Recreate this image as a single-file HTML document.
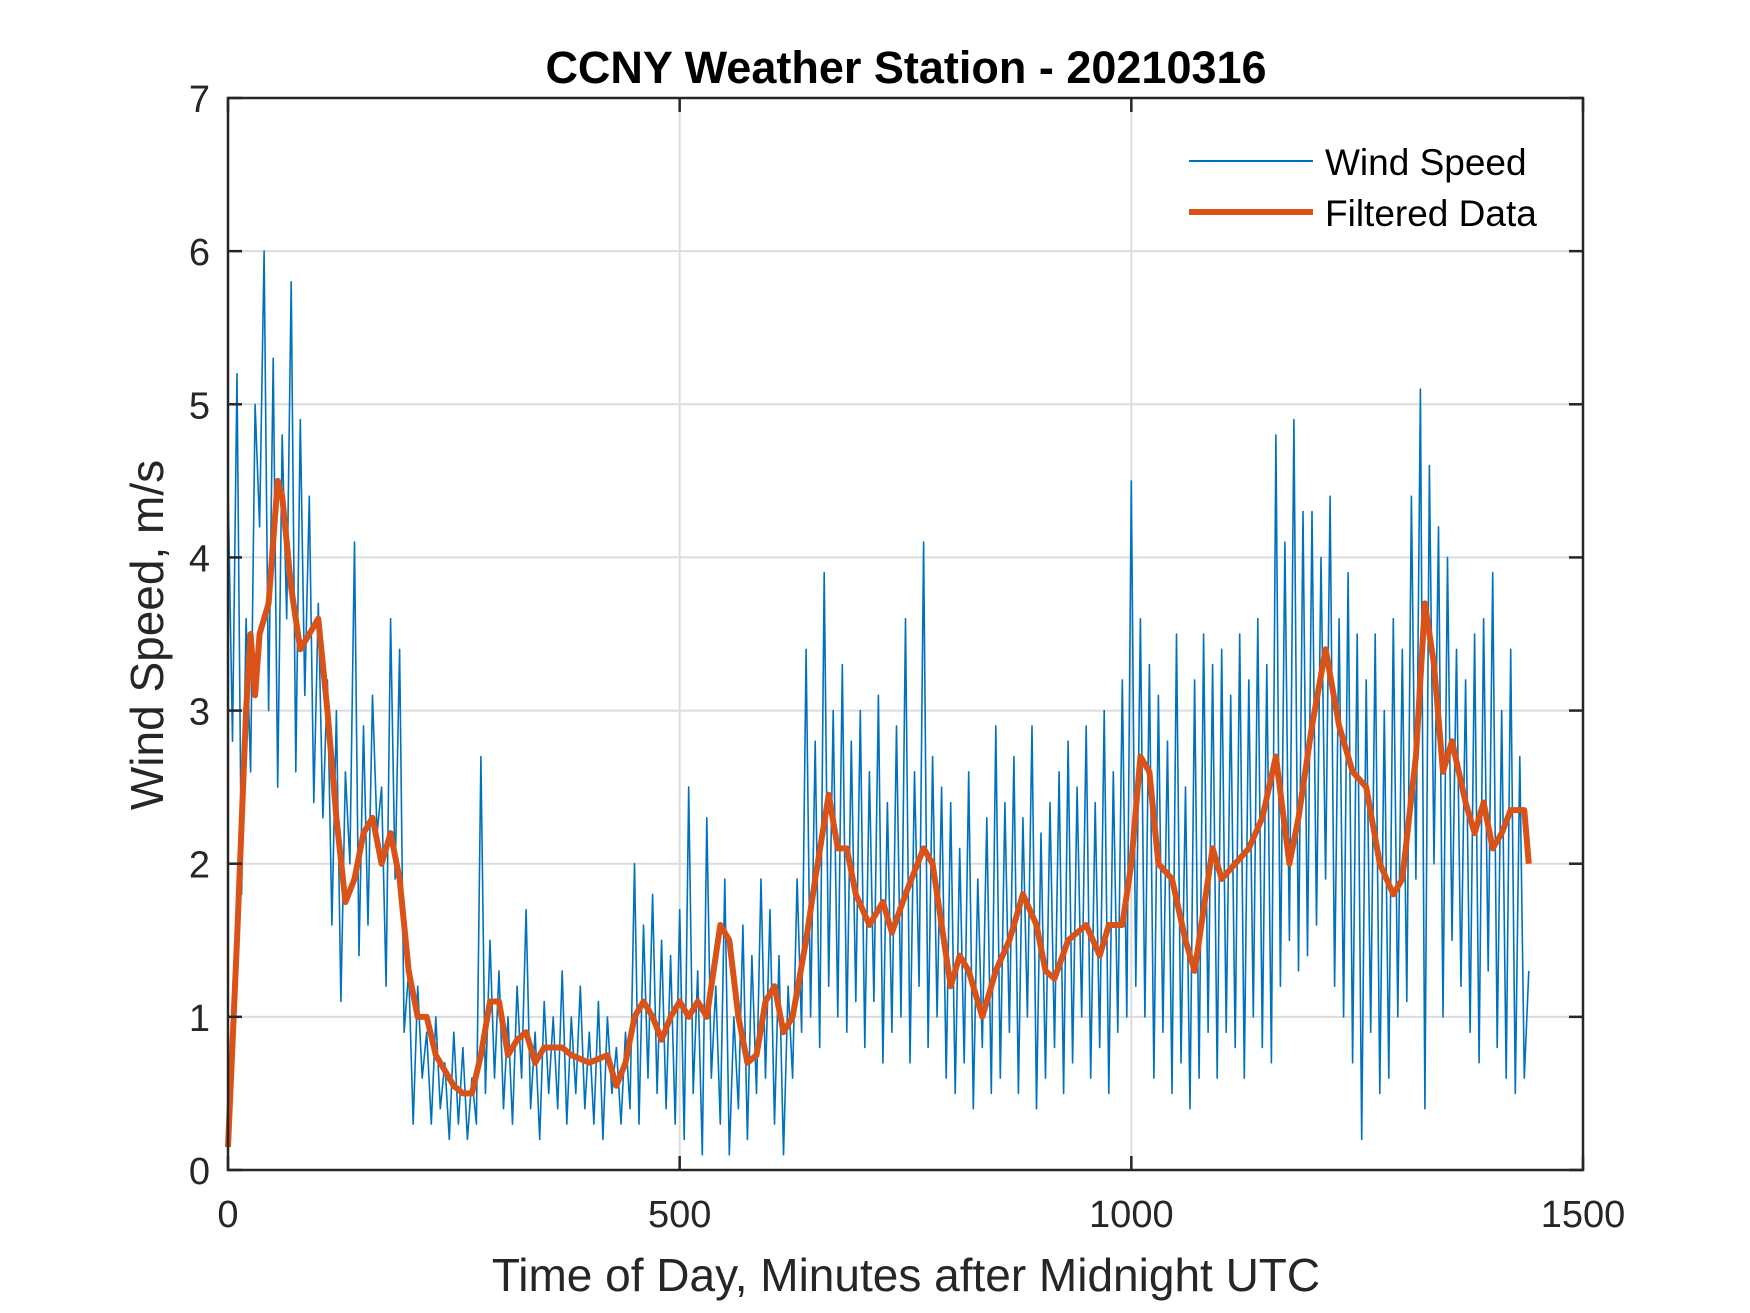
<!DOCTYPE html>
<html><head><meta charset="utf-8"><style>
html,body{margin:0;padding:0;background:#fff;}
svg{display:block;font-family:"Liberation Sans",Arial,sans-serif;}
</style></head><body>
<svg id="chart" width="1750" height="1313" viewBox="0 0 1750 1313">
<rect x="0" y="0" width="1750" height="1313" fill="#fff"/>
<g id="grid"></g>
<g id="series"></g>
<rect x="228" y="98" width="1355" height="1072" fill="none" stroke="#262626" stroke-width="2.5"/>
<g id="ticks"></g>
<text x="906" y="83" text-anchor="middle" font-size="45" font-weight="bold" fill="#000">CCNY Weather Station - 20210316</text>
<text x="906" y="1291" text-anchor="middle" font-size="46" fill="#262626">Time of Day, Minutes after Midnight UTC</text>
<text x="0" y="0" transform="translate(163,635) rotate(-90)" text-anchor="middle" font-size="46" fill="#262626">Wind Speed, m/s</text>
<g>
<line x1="1189" y1="161" x2="1313" y2="161" stroke="#0072BD" stroke-width="2"/>
<text x="1325" y="175" font-size="37" fill="#000">Wind Speed</text>
<line x1="1189" y1="212" x2="1313" y2="212" stroke="#D95319" stroke-width="6"/>
<text x="1325" y="226" font-size="37" fill="#000">Filtered Data</text>
</g>
</svg>
<script>
const xTicks=[0,500,1000,1500];
const yTicks=[0,1,2,3,4,5,6,7];
const rawStep=5;
const rawValues=[
4.5,2.8,5.2,1.8,3.6,2.6,5.0,4.2,6.0,3.0,5.3,2.5,4.8,3.6,5.8,2.6,4.9,3.1,4.4,2.4,
3.7,2.3,3.2,1.6,3.0,1.1,2.6,2.0,4.1,1.4,2.9,1.6,3.1,2.2,2.5,1.2,3.6,1.9,3.4,0.9,
1.3,0.3,1.2,0.6,0.9,0.3,1.0,0.4,0.7,0.2,0.9,0.3,0.8,0.2,0.6,0.3,2.7,0.5,1.5,0.6,
1.3,0.4,1.0,0.3,1.2,0.6,1.7,0.4,0.9,0.2,1.1,0.5,1.0,0.4,1.3,0.3,1.0,0.5,1.2,0.4,
0.9,0.3,1.1,0.2,1.0,0.5,0.8,0.3,0.9,0.4,2.0,0.3,1.6,0.6,1.8,0.5,1.5,0.4,1.4,0.3,
1.7,0.2,2.5,0.5,1.3,0.1,2.3,0.6,1.2,0.3,1.9,0.1,1.0,0.4,1.6,0.2,1.4,0.5,1.9,0.6,
1.7,0.3,1.4,0.1,1.2,0.6,1.9,0.9,3.4,1.0,2.8,0.8,3.9,1.2,3.0,1.0,3.3,0.9,2.8,1.1,
3.0,0.8,2.6,1.1,3.1,0.7,2.4,0.9,2.9,1.0,3.6,0.7,2.6,1.2,4.1,0.8,2.7,1.0,2.5,0.6,
2.4,0.5,2.1,0.7,2.6,0.4,1.9,0.8,2.3,0.5,2.9,0.6,2.4,0.9,2.7,0.5,2.3,1.0,2.9,0.4,
2.2,0.6,2.4,0.8,2.6,0.5,2.8,0.7,2.5,1.0,2.9,0.6,2.4,0.8,3.0,0.5,2.6,0.9,3.2,1.0,
4.5,1.2,3.6,1.0,3.3,0.6,3.1,0.9,2.8,0.5,3.5,0.7,2.5,0.4,3.2,0.6,3.5,0.9,3.3,0.6,
3.4,0.9,3.1,0.8,3.5,0.6,3.2,1.0,3.6,0.8,3.3,0.7,4.8,1.2,4.1,1.5,4.9,1.3,4.3,1.4,
4.3,1.6,4.0,1.9,4.4,1.2,3.6,1.0,3.9,0.7,3.5,0.2,3.2,0.9,3.5,0.5,3.0,0.6,3.6,1.0,
3.4,1.1,4.4,1.9,5.1,0.4,4.6,2.0,4.2,1.0,4.0,1.5,3.4,1.2,3.2,0.9,3.5,0.7,3.6,1.3,
3.9,0.8,3.0,0.6,3.4,0.5,2.7,0.6,1.3];
const filtTimes=[0,10,20,25,30,35,45,55,60,70,80,90,100,110,120,130,140,150,160,170,180,190,200,210,220,230,250,260,270,280,290,300,310,320,330,340,350,370,380,400,420,430,440,450,460,470,480,490,500,510,520,530,545,555,565,575,585,595,605,615,625,640,650,665,675,685,695,710,725,735,750,770,780,790,800,810,820,835,850,865,880,895,905,915,930,950,965,975,990,1000,1010,1020,1030,1045,1060,1070,1085,1090,1100,1115,1130,1145,1160,1175,1185,1200,1215,1230,1245,1260,1275,1290,1300,1315,1325,1335,1345,1355,1370,1380,1390,1400,1410,1420,1435,1440];
const filtValues=[0.15,1.5,3.0,3.5,3.1,3.5,3.7,4.5,4.4,3.8,3.4,3.5,3.6,3.0,2.3,1.75,1.9,2.2,2.3,2.0,2.2,1.9,1.3,1.0,1.0,0.75,0.55,0.5,0.5,0.75,1.1,1.1,0.75,0.85,0.9,0.7,0.8,0.8,0.75,0.7,0.75,0.55,0.7,1.0,1.1,1.0,0.85,1.0,1.1,1.0,1.1,1.0,1.6,1.5,1.0,0.7,0.75,1.1,1.2,0.9,1.0,1.5,1.9,2.45,2.1,2.1,1.8,1.6,1.75,1.55,1.8,2.1,2.0,1.6,1.2,1.4,1.3,1.0,1.3,1.5,1.8,1.6,1.3,1.25,1.5,1.6,1.4,1.6,1.6,2.0,2.7,2.6,2.0,1.9,1.5,1.3,1.9,2.1,1.9,2.0,2.1,2.3,2.7,2.0,2.3,2.9,3.4,2.9,2.6,2.5,2.0,1.8,1.9,2.7,3.7,3.3,2.6,2.8,2.4,2.2,2.4,2.1,2.2,2.35,2.35,2.0];

const L=228,R=1583,T=98,B=1170;
const xs=v=>L+(v-0)/(1500-0)*(R-L);
const ys=v=>B-(v-0)/(7-0)*(B-T);
const NS='http://www.w3.org/2000/svg';
function mk(tag,attrs,parent){const e=document.createElementNS(NS,tag);for(const k in attrs)e.setAttribute(k,attrs[k]);parent.appendChild(e);return e;}
const grid=document.getElementById('grid'),ticks=document.getElementById('ticks'),series=document.getElementById('series');
xTicks.forEach(v=>{
  const x=xs(v);
  if(v>0&&v<1500){const g=mk('line',{x1:x,y1:T,x2:x,y2:B,stroke:'#dcdcdc','stroke-width':2},grid);
  
  }
  const t1=mk('line',{x1:x,y1:B,x2:x,y2:B-14,stroke:'#262626','stroke-width':2.5},ticks);
  
  
  const t2=mk('line',{x1:x,y1:T,x2:x,y2:T+14,stroke:'#262626','stroke-width':2.5},ticks);
  
  
  const lb=mk('text',{x:x,y:1227,'text-anchor':'middle','font-size':38,fill:'#262626'},ticks);
  lb.textContent=v;
  
  
});
yTicks.forEach(v=>{
  const y=ys(v);
  if(v>0&&v<7){const g=mk('line',{x1:L,y1:y,x2:R,y2:y,stroke:'#dcdcdc','stroke-width':2},grid);
  
  }
  const t1=mk('line',{x1:L,y1:y,x2:L+14,y2:y,stroke:'#262626','stroke-width':2.5},ticks);
  
  
  const t2=mk('line',{x1:R,y1:y,x2:R-14,y2:y,stroke:'#262626','stroke-width':2.5},ticks);
  
  
  const lb=mk('text',{x:210,y:y+14,'text-anchor':'end','font-size':38,fill:'#262626'},ticks);
  lb.textContent=v;
  
  
});
const rawPts=rawValues.map((v,i)=>xs(i*rawStep).toFixed(1)+','+ys(v).toFixed(1)).join(' ');
const raw=mk('polyline',{points:rawPts,fill:'none',stroke:'#0072BD','stroke-width':1.6,'stroke-linejoin':'round'},series);


const fPts=filtValues.map((v,i)=>xs(filtTimes[i]).toFixed(1)+','+ys(v).toFixed(1)).join(' ');
const filt=mk('polyline',{points:fPts,fill:'none',stroke:'#D95319','stroke-width':6,'stroke-linejoin':'round'},series);


</script>
</body></html>
